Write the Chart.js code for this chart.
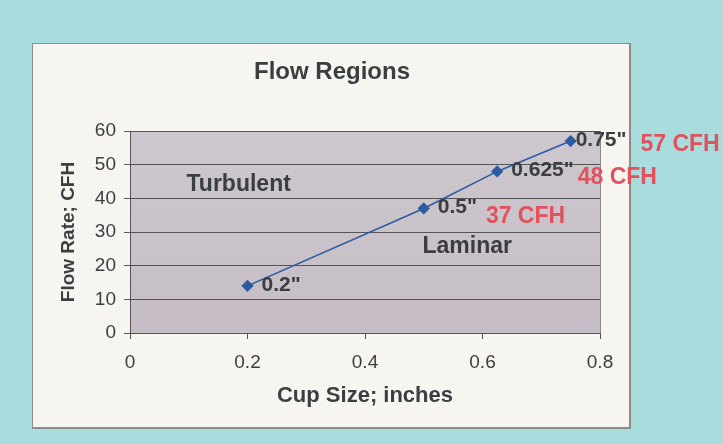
<!DOCTYPE html>
<html>
<head>
<meta charset="utf-8">
<script src="https://cdn.jsdelivr.net/npm/chart.js@4.4.0/dist/chart.umd.min.js"></script>
<style>
  html, body { margin: 0; padding: 0; }
  body { width: 723px; height: 444px; background: #a9dcdc; position: relative; overflow: hidden; }
  #card { position: absolute; left: 32px; top: 43px; width: 596px; height: 383px;
          background: #f6f5f0; border: 1px solid #8c8c8c; border-right-width: 2px; border-bottom-width: 2px; }
  #flow { position: absolute; left: 0; top: 0; }
</style>
</head>
<body>
<div id="card"></div>
<canvas id="flow" width="723" height="444"></canvas>
<script>
// values
const cupSizes = [0.2, 0.5, 0.625, 0.75];
const flowRates = [14, 37, 48, 57];
const sizeLabels = ['0.2"', '0.5"', '0.625"', '0.75"'];
const cfhLabels = ['', '37 CFH', '48 CFH', '57 CFH'];
const regionNames = ['Turbulent', 'Laminar'];

const dark = '#3a3e41';
const blue = '#2b5ba3';
const red = '#e0525e';
const font = 'Liberation Sans, Arial, sans-serif';

// plot fill, title, region names and point labels
const annotate = {
  id: 'annotate',
  beforeDraw(chart) {
    const { ctx, chartArea: a } = chart;
    ctx.save();
    const g = ctx.createLinearGradient(0, a.top, 0, a.bottom);
    g.addColorStop(0, '#cdc8cd');
    g.addColorStop(1, '#c6bdc6');
    ctx.fillStyle = g;
    ctx.fillRect(a.left, a.top, a.right - a.left, a.bottom - a.top);
    ctx.strokeStyle = '#8a8a8a';
    ctx.lineWidth = 1;
    ctx.strokeRect(a.left + 0.5, a.top + 0.5, a.right - a.left, a.bottom - a.top);
    ctx.restore();
  },
  afterDatasetsDraw(chart) {
    const { ctx } = chart;
    const x = chart.scales.x, y = chart.scales.y;
    ctx.save();
    ctx.textBaseline = 'middle';

    ctx.fillStyle = dark;
    ctx.textAlign = 'center';
    ctx.font = 'bold 24px ' + font;
    ctx.fillText('Flow Regions', 332, 72);

    ctx.font = 'bold 23px ' + font;
    ctx.fillText(regionNames[0], x.getPixelForValue(0.185), y.getPixelForValue(44.2));
    ctx.fillText(regionNames[1], x.getPixelForValue(0.574), y.getPixelForValue(25.6));

    ctx.textAlign = 'left';
    cupSizes.forEach((c, i) => {
      const px = x.getPixelForValue(c);
      const py = y.getPixelForValue(flowRates[i]);
      const last = i === cupSizes.length - 1;
      const lx = px + (last ? 5 : 14);
      ctx.font = 'bold 21px ' + font;
      ctx.fillStyle = dark;
      ctx.fillText(sizeLabels[i], lx, py - 1);
      const w = ctx.measureText(sizeLabels[i]).width;
      if (cfhLabels[i]) {
        ctx.font = 'bold 23px ' + font;
        ctx.fillStyle = red;
        const gap = i === 1 ? 9 : (i === 2 ? 4 : 14);
        ctx.fillText(cfhLabels[i], lx + w + gap, py + 4 + (i === 1 ? 4 : (i === 2 ? 2 : 0)));
      }
    });
    ctx.restore();
  }
};

new Chart(document.getElementById('flow'), {
  type: 'scatter',
  data: {
    datasets: [{
      data: cupSizes.map((c, i) => ({ x: c, y: flowRates[i] })),
      showLine: true,
      borderColor: blue,
      backgroundColor: blue,
      borderWidth: 1.6,
      pointStyle: 'rectRot',
      pointRadius: 5,
      pointHoverRadius: 5
    }]
  },
  options: {
    responsive: false,
    animation: false,
    devicePixelRatio: 1,
    layout: { padding: { top: 131, right: 123, bottom: 0, left: 0 } },
    plugins: { legend: { display: false }, tooltip: { enabled: false } },
    scales: {
      x: {
        type: 'linear', min: 0, max: 0.8,
        ticks: { stepSize: 0.2, color: dark, font: { family: font, size: 19 }, padding: 12 },
        grid: { drawOnChartArea: false, tickLength: 6, color: '#555' },
        border: { color: '#555' },
        title: { display: true, text: 'Cup Size; inches', color: dark,
                 font: { family: font, size: 22, weight: 'bold' }, padding: { top: 4, bottom: 35 } },
        afterFit(s) { s.height = 111; }
      },
      y: {
        min: 0, max: 60,
        ticks: { stepSize: 10, color: dark, font: { family: font, size: 19 }, padding: 8 },
        grid: { color: '#555', tickLength: 6 },
        border: { color: '#555' },
        title: { display: true, text: 'Flow Rate; CFH', color: dark,
                 font: { family: font, size: 19, weight: 'bold' }, padding: { top: 57, bottom: 4 } },
        afterFit(s) { s.width = 130; }
      }
    }
  },
  plugins: [annotate]
});
</script>
</body>
</html>
